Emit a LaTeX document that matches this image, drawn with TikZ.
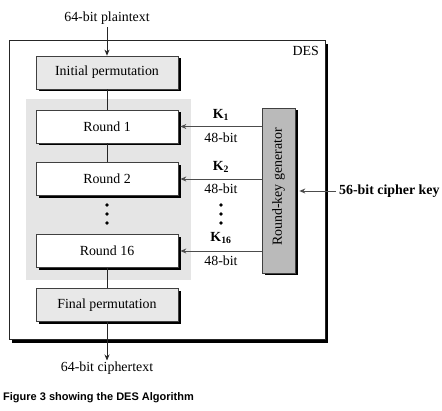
\documentclass[tikz,border=0pt]{standalone}
\usepackage{fontspec}
\setmainfont{Liberation Serif}
\newfontfamily\capfont{Liberation Sans}
\usetikzlibrary{arrows.meta,shadows}
\begin{document}
\begin{tikzpicture}[x=1pt,y=-1pt,
  font=\fontsize{13.9}{15}\selectfont,
  shad/.style={drop shadow={shadow xshift=2.5pt,shadow yshift=-2.5pt,fill=black,opacity=1}},
  permbox/.style={draw=black!75,line width=0.7pt,fill=black!9,minimum width=142pt,minimum height=33pt,inner sep=0pt,shad},
  roundbox/.style={permbox,fill=white},
  kgenbox/.style={draw=black!75,line width=0.7pt,fill=black!27,minimum width=33pt,minimum height=165pt,inner sep=0pt,shad},
  conn/.style={draw=black!85,line width=0.8pt},
  arr/.style={conn,-{Stealth[length=6pt,width=5pt]}},
  karr/.style={draw=black!70,line width=0.9pt,-{Stealth[length=6pt,width=5pt]}},
  lab/.style={inner sep=1pt},
  dotmark/.style={circle,fill=black,inner sep=0pt,minimum size=3.6pt}
]
\useasboundingbox (0,0) rectangle (442,411);
% outer DES box
\node[draw=black!85,line width=1pt,fill=white,minimum width=316pt,minimum height=299pt,inner sep=0pt,
  drop shadow={shadow xshift=3pt,shadow yshift=-3pt,fill=black,opacity=1}] (des) at (167,190.5) {};
\node[anchor=north east,inner sep=0pt] (deslab) at (319,46) {DES};
% gray region
\fill[black!10] (26,99) rectangle (191,280);
% main chain
\node[permbox] (init) at (107,72.5) {Initial permutation};
\node[roundbox] (r1) at (107,126.5) {Round 1};
\node[roundbox] (r2) at (107,179) {Round 2};
\node[roundbox] (r16) at (107,251) {Round 16};
\node[permbox] (fin) at (107,305) {Final permutation};
\node[dotmark] (d1) at (107,205) {};
\node[dotmark] (d2) at (107,214) {};
\node[dotmark] (d3) at (107,223) {};
% plain/cipher text
\node[lab] (pt) at (107,18) {64-bit plaintext};
\node[lab] (ct) at (107,368) {64-bit ciphertext};
\draw[arr] (pt.south) ++(0,2) -- (init.north);
\draw[conn] (init.south) -- (r1.north);
\draw[conn] (r1.south) -- (r2.north);
\draw[conn] (r16.south) -- (fin.north);
\draw[arr] (fin.south) -- (ct.north);
% key generator
\node[kgenbox] (kg) at (278.5,190.5) {};
\node[rotate=90] (kgl) at (278.5,187) {Round-key generator};
\draw[karr,shorten >=2pt] (kg.west |- r1.east) -- (r1.east);
\draw[karr,shorten >=2pt] (kg.west |- r2.east) -- (r2.east);
\draw[karr,shorten >=2pt] (kg.west |- r16.east) -- (r16.east);
\node[lab] (k1) at (221,115) {$\mathbf{K}_{\mathbf{1}}$};
\node[lab] (b1) at (221,137.5) {48-bit};
\node[lab] (k2) at (221,167) {$\mathbf{K}_{\mathbf{2}}$};
\node[lab] (b2) at (221,189) {48-bit};
\node[dotmark] (e1) at (221,205) {};
\node[dotmark] (e2) at (221,214) {};
\node[dotmark] (e3) at (221,223) {};
\node[lab] (k16) at (221,238) {$\mathbf{K}_{\mathbf{16}}$};
\node[lab] (b16) at (221,260.5) {48-bit};
\node[lab,anchor=west,font=\fontsize{13.9}{15}\selectfont\bfseries] (ck) at (338,191) {56-bit cipher key};
\draw[karr,shorten <=2pt,shorten >=4pt] (ck.west) -- (kg.east |- ck.west);
% caption
\node[anchor=west,inner sep=0pt,font=\capfont\bfseries\fontsize{11}{13}\selectfont] (cap) at (3,398) {Figure 3 showing the DES Algorithm};
\end{tikzpicture}
\end{document}
